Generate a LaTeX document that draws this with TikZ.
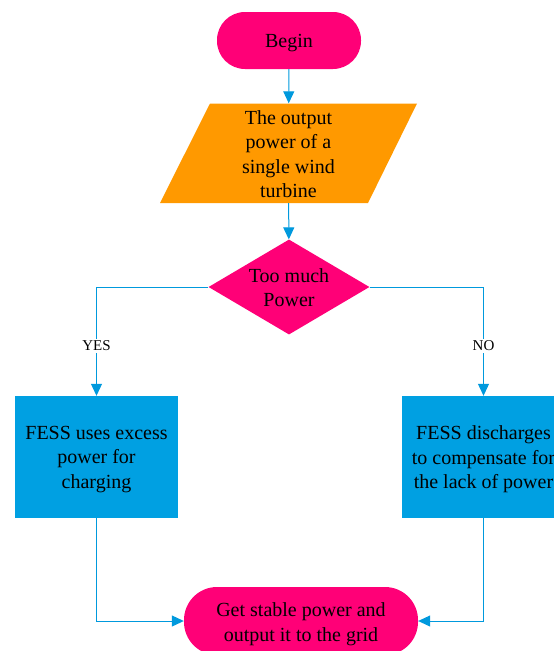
\documentclass[tikz,border=0pt]{standalone}
\usepackage{fontspec}
\setmainfont{Liberation Serif}
\usetikzlibrary{shapes.geometric,arrows.meta}
\definecolor{pinkc}{RGB}{255,0,119}
\definecolor{orangec}{RGB}{255,153,0}
\definecolor{boxc}{RGB}{0,160,226}
\definecolor{linec}{RGB}{0,153,221}
\begin{document}
\begin{tikzpicture}[x=1pt,y=-1pt,
  every node/.style={font=\fontsize{20}{24.6}\selectfont, text=black, align=center},
  term/.style={fill=pinkc, rounded corners=#1, inner sep=0},
  procbox/.style={fill=boxc, minimum width=163pt, minimum height=122pt, inner sep=0},
  txt/.style={inner sep=0},
  conn/.style={draw=linec, line width=1pt, -{Triangle[width=11pt,length=12pt]}},
  lbl/.style={fill=white, inner sep=2pt, font=\fontsize{15}{18}\selectfont}
]
\useasboundingbox (0,0) rectangle (554,651);
% Begin
\node[term=28pt, minimum width=144pt, minimum height=57pt] (begin) at (289,40.5) {};
\node[txt] (begintext) at ([yshift=-2.5pt]begin.center) {Begin};
% Parallelogram
\fill[orangec] (210,103.5) -- (417,103.5) -- (368,203) -- (160,203) -- cycle;
\node[minimum height=99.5pt, text width=110pt, inner sep=0] (out) at (288.5,153.25) {};
\node[txt] (outtext) at ([yshift=-1pt]out.center) {The output\\power of a\\single wind\\turbine};
% Decision
\node[diamond, fill=pinkc, minimum width=161pt, minimum height=95pt, inner sep=0, aspect=1.7] (dec) at (289,287) {};
\node[txt] (dectext) at (289,287.5) {Too much\\Power};
% Boxes
\node[procbox] (lbox) at (96.5,457) {};
\node[txt] (ltext) at ([yshift=-2.5pt]lbox.center) {FESS uses excess\\power for\\charging};
\node[procbox] (rbox) at (483.5,457) {};
\node[txt] (rtext) at ([yshift=-2.5pt]rbox.center) {FESS discharges\\to compensate for\\the lack of power};
% End
\node[term=33pt, minimum width=234pt, minimum height=68pt] (end) at (301,621) {};
\node[txt] (endtext) at (301,624.5) {Get stable power and\\output it to the grid};
% Connectors
\draw[conn] (begin) -- (out);
\draw[conn] (out) -- (dec);
\draw[conn] (dec.west) -| node[lbl, pos=0.77] (yes) {YES} (lbox.north);
\draw[conn] (dec.east) -| node[lbl, pos=0.77] (no) {NO} (rbox.north);
\draw[conn] (lbox.south) |- (end.west);
\draw[conn] (rbox.south) |- (end.east);
\end{tikzpicture}
\end{document}
